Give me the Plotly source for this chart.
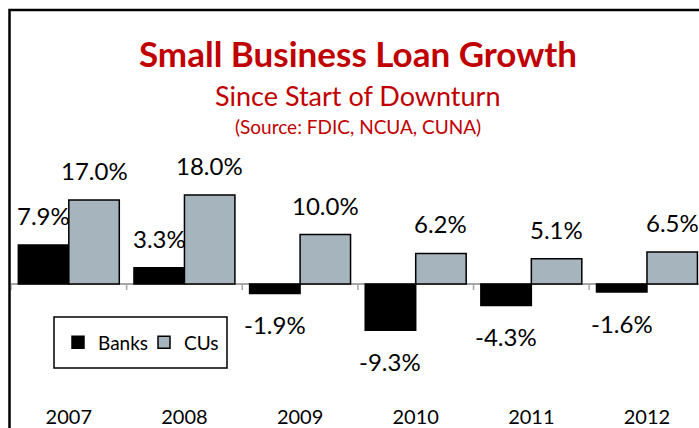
import plotly.graph_objects as go

years = ["2007", "2008", "2009", "2010", "2011", "2012"]
banks = [7.9, 3.3, -1.9, -9.3, -4.3, -1.6]
cus = [17.0, 18.0, 10.0, 6.2, 5.1, 6.5]

RED = "#C00000"
GREY = "#A5B4BD"
FONT = "Lato"

W, H = 699, 428
ML, MR, MT, MB = 11, 0, 140, 28
BARGAP = 0.127


def px_x(p):
    # pixel -> paper fraction (x)
    return (p - ML) / (W - ML - MR)


def px_y(p):
    # pixel -> paper fraction (y)
    return (H - MB - p) / (H - MT - MB)


fig = go.Figure()
fig.add_trace(go.Bar(x=years, y=banks, name="Banks",
                     marker=dict(color="black", line=dict(color="black", width=1.5))))
fig.add_trace(go.Bar(x=years, y=cus, name="CUs",
                     marker=dict(color=GREY, line=dict(color="black", width=1.5))))

# data labels above / below each bar
half = (1 - BARGAP) / 4
for i in range(len(years)):
    for off, v in ((-half, banks[i]), (half, cus[i])):
        fig.add_annotation(x=i + off, y=v, xref="x", yref="y",
                           text=f"{v:.1f}%", showarrow=False,
                           xanchor="center", yanchor="middle",
                           yshift=29.5 if v >= 0 else -31,
                           font=dict(family=FONT, size=24, color="black"))

# small ticks on the zero line between categories
for i in range(len(years) + 1):
    fig.add_shape(type="line", xref="x", yref="y", x0=i - 0.5, x1=i - 0.5,
                  y0=0, y1=-1.2, line=dict(color="#A6A6A6", width=1.5))

# chart frame (cropped on the right and bottom)
fig.add_shape(type="rect", xref="paper", yref="paper",
              x0=px_x(9.5), x1=px_x(760), y0=px_y(480), y1=px_y(10),
              line=dict(color="black", width=2.5), fillcolor="rgba(0,0,0,0)")

# legend box
fig.add_shape(type="rect", xref="paper", yref="paper",
              x0=px_x(54), x1=px_x(227), y0=px_y(368), y1=px_y(317),
              line=dict(color="black", width=1.5), fillcolor="white", layer="above")

fig.add_annotation(x=px_x(358), y=px_y(53), xref="paper", yref="paper",
                   text="<b>Small Business Loan Growth</b>", showarrow=False,
                   xanchor="center", yanchor="middle",
                   font=dict(family=FONT, size=35, color=RED))
fig.add_annotation(x=px_x(358), y=px_y(96), xref="paper", yref="paper",
                   text="Since Start of Downturn", showarrow=False,
                   xanchor="center", yanchor="middle",
                   font=dict(family=FONT, size=27, color=RED))
fig.add_annotation(x=px_x(358), y=px_y(127), xref="paper", yref="paper",
                   text="(Source: FDIC, NCUA, CUNA)", showarrow=False,
                   xanchor="center", yanchor="middle",
                   font=dict(family=FONT, size=19, color=RED))

fig.update_layout(
    width=W, height=H,
    margin=dict(l=ML, r=MR, t=MT, b=MB),
    plot_bgcolor="white",
    paper_bgcolor="white",
    barmode="group",
    bargap=BARGAP,
    bargroupgap=0,
    font=dict(family=FONT, color="black"),
    showlegend=True,
    legend=dict(orientation="h", x=px_x(58), y=px_y(342.5),
                xanchor="left", yanchor="middle",
                entrywidth=41, entrywidthmode="pixels",
                borderwidth=0, bgcolor="rgba(0,0,0,0)",
                font=dict(family=FONT, size=19, color="black")),
)
fig.update_xaxes(range=[-0.5, 5.45], showline=False, ticks="", showgrid=False,
                 ticklabelstandoff=3,
                 tickfont=dict(family=FONT, size=20, color="black"))
fig.update_yaxes(range=[-23.4, 29.1], showticklabels=False, showgrid=False,
                 zeroline=True, zerolinecolor="#A6A6A6", zerolinewidth=2,
                 showline=False)

fig.write_html("out.html", config={"displayModeBar": False},
               post_script="document.body.style.margin='0';")
